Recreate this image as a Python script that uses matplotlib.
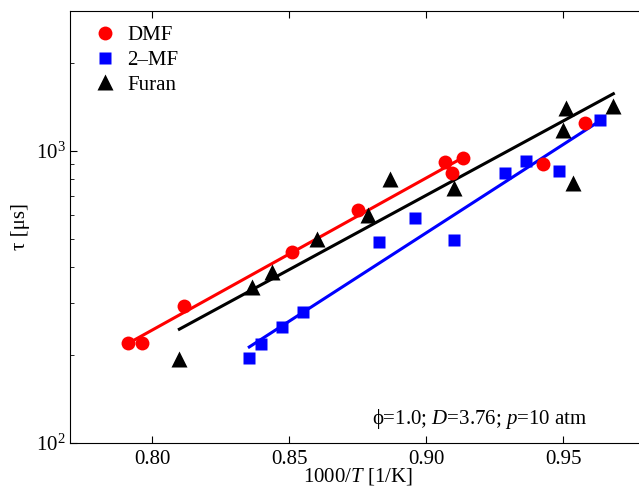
import matplotlib
matplotlib.use("Agg")
import matplotlib.pyplot as plt
import numpy as np

# ignition delay data
dmf_x = [0.7912, 0.7964, 0.8117, 0.8511, 0.8752, 0.9069, 0.9095, 0.9135, 0.9427, 0.9580]
dmf_tau = [219, 219, 294, 449, 624, 917, 835, 946, 903, 1246]

mf_x = [0.8354, 0.8398, 0.8474, 0.8551, 0.8828, 0.8960, 0.9099, 0.9285, 0.9365, 0.9482, 0.9635]
mf_tau = [195, 218, 249, 280, 485, 590, 493, 841, 924, 848, 1276]

furan_x = [0.8099, 0.8365, 0.8438, 0.8602, 0.8788, 0.8869, 0.9102, 0.9511, 0.9500, 0.9536, 0.9682]
furan_tau = [193, 341, 383, 497, 600, 802, 742, 1402, 1179, 772, 1424]

# fitted lines (end points)
dmf_fit_x = [0.7912, 0.9135]
dmf_fit_tau = [219, 948]
mf_fit_x = [0.8354, 0.9617]
mf_fit_tau = [213, 1236]
furan_fit_x = [0.8099, 0.9682]
furan_fit_tau = [245, 1564]

plt.rcParams['font.family'] = ['Liberation Serif', 'DejaVu Serif']
plt.rcParams['mathtext.fontset'] = 'custom'
plt.rcParams['mathtext.rm'] = 'Liberation Serif'
plt.rcParams['mathtext.it'] = 'Liberation Serif:italic'
plt.rcParams['font.size'] = 15

fig = plt.figure(figsize=(6.39, 4.9), dpi=100)
ax = fig.add_axes([0.1095, 0.0959, 0.901, 0.8816])

ax.plot(dmf_fit_x, dmf_fit_tau, color='#ff0000', lw=2.2)
ax.plot(furan_fit_x, furan_fit_tau, color='black', lw=2.2)
ax.plot(mf_fit_x, mf_fit_tau, color='#0000ff', lw=2.2)

ax.plot(dmf_x, dmf_tau, 'o', color='#ff0000', ms=10, mec='none', label='DMF')
ax.plot(mf_x, mf_tau, 's', color='#0000ff', ms=8, mec='none', label='2\u2013MF')
ax.plot(furan_x, furan_tau, '^', color='black', ms=11, mec='none', label='Furan')

ax.set_yscale('log')
ax.set_xlim(0.77, 0.98)
ax.set_ylim(100, 3000)
ax.set_xticks([0.80, 0.85, 0.90, 0.95])
ax.set_xticklabels(['0.80', '0.85', '0.90', '0.95'])
ax.tick_params(which='both', direction='in', top=True, right=True)
ax.tick_params(which='major', length=5, width=0.8)
ax.tick_params(which='minor', length=3, width=0.6)
ax.tick_params(axis='x', which='major', pad=5)
ax.tick_params(axis='y', which='major', pad=3)

ax.set_xlabel('1000/$T$ [1/K]', labelpad=-2)
ax.set_ylabel('\u03c4 [\u03bcs]', labelpad=4)

ax.text(0.712, 0.028, '\u03d5=1.0; $D$=3.76; $p$=10 atm', transform=ax.transAxes,
        ha='center', va='bottom', fontsize=15)

ax.legend(loc='upper left', frameon=False, numpoints=1, handlelength=1.2,
          handletextpad=0.5, labelspacing=0.25, borderaxespad=0.3,
          bbox_to_anchor=(0.013, 1.0))

fig.savefig('out.png', dpi=100)
